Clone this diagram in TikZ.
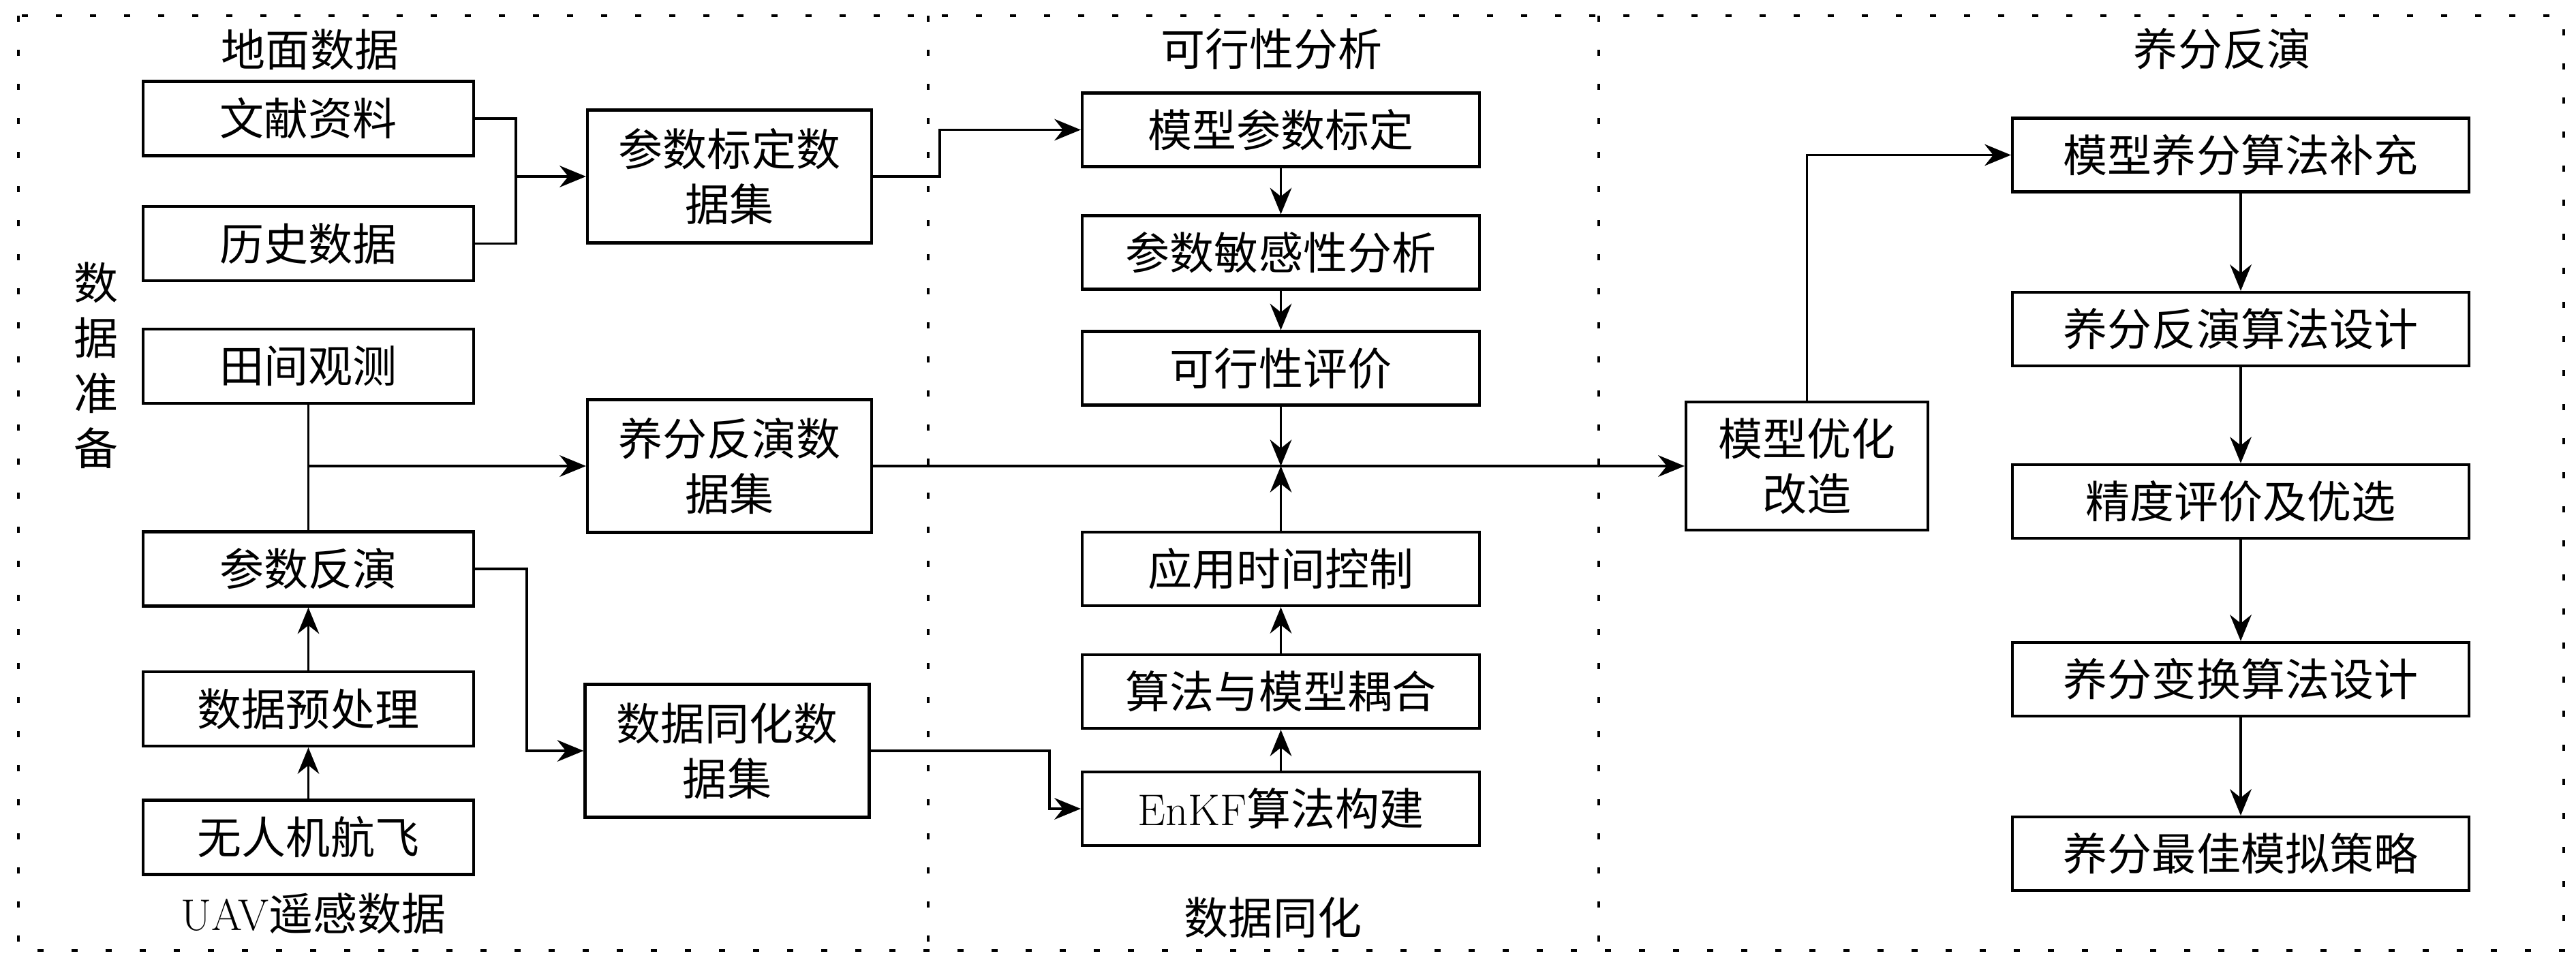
\documentclass[tikz,border=0pt]{standalone}
\usepackage{fontspec}
\usepackage{tikz}
\usetikzlibrary{arrows.meta}
\newfontfamily\cjk{Noto Sans CJK SC}

\begin{document}
\begin{tikzpicture}[x=1cm,y=-1cm,
	box/.style={shape=rectangle,draw=black,line width=1.2pt,inner sep=0pt,align=center,font=\cjk\fontsize{18.5}{23}\selectfont},
	lbox/.style={box,minimum width=4.85cm,minimum height=1.09cm},
	dbox/.style={box,minimum width=4.17cm,minimum height=1.95cm},
	mbox/.style={box,minimum width=5.83cm,minimum height=1.08cm},
	rbox/.style={box,minimum width=6.70cm,minimum height=1.08cm},
	lbl/.style={align=center,font=\cjk\fontsize{18.5}{23}\selectfont},
	frame/.style={line width=1.2pt,dash pattern=on 0.09cm off 0.41cm},
	link/.style={line width=1pt},
	>={Stealth[length=11pt,width=9pt]}]

	\useasboundingbox (0,0) rectangle (37.8,14.08);

	% dotted frame and columns
	\draw[frame] (0.27,0.23) rectangle (37.62,13.95);
	\draw[frame] (13.62,0.23) -- (13.62,13.95);
	\draw[frame] (23.46,0.23) -- (23.46,13.95);

	\node[lbl] (dmsj) at (4.55,0.73)  {地面数据};
	\node[lbl] (uav)  at (4.60,13.41) {{\rmfamily UAV}遥感数据};
	\node[lbl] (sjzb) at (1.41,5.36)  {数\\据\\准\\备};
	\node[lbl] (kxfx) at (18.66,0.72) {可行性分析};
	\node[lbl] (sjth) at (18.68,13.47) {数据同化};
	\node[lbl] (yffy) at (32.61,0.72) {养分反演};

	\node[lbox] (wx)   at (4.525,1.74)   {文献资料};
	\node[lbox] (ls)   at (4.525,3.575)  {历史数据};
	\node[lbox] (tj)   at (4.525,5.375)  {田间观测};
	\node[lbox] (csfy) at (4.525,8.35)   {参数反演};
	\node[lbox] (yucl) at (4.525,10.405) {数据预处理};
	\node[lbox] (wrj)  at (4.525,12.29)  {无人机航飞};

	\node[dbox] (bdsj) at (10.705,2.59) {参数标定数\\据集};
	\node[dbox] (fysj) at (10.705,6.84) {养分反演数\\据集};
	\node[dbox] (thsj) at (10.67,11.02) {数据同化数\\据集};

	\node[mbox] (mxbd) at (18.795,1.905)  {模型参数标定};
	\node[mbox] (mgx)  at (18.795,3.705)  {参数敏感性分析};
	\node[mbox] (kxpj) at (18.795,5.405)  {可行性评价};
	\node[mbox] (sjkz) at (18.795,8.35)   {应用时间控制};
	\node[mbox] (ouhe) at (18.795,10.15)  {算法与模型耦合};
	\node[mbox] (enkf) at (18.795,11.87)  {{\rmfamily EnKF}算法构建};

	\node[box,minimum width=3.55cm,minimum height=1.88cm] (yhgz) at (26.515,6.84) {模型优化\\改造};

	\node[rbox] (bc)   at (32.88,2.275) {模型养分算法补充};
	\node[rbox] (fysf) at (32.88,4.83)  {养分反演算法设计};
	\node[rbox] (jd)   at (32.88,7.36)  {精度评价及优选};
	\node[rbox] (bh)   at (32.88,9.97)  {养分变换算法设计};
	\node[rbox] (cl)   at (32.88,12.53) {养分最佳模拟策略};

	\coordinate (j1)  at (7.57,2.59);
	\coordinate (k1)  at (13.79,2.59);
	\coordinate (j2)  at (4.525,6.84);
	\coordinate (j3)  at (7.73,8.35);
	\coordinate (k2)  at (15.40,11.02);
	\coordinate (hub) at (18.795,6.84);

	\draw[link] (wx.east) -| (j1) |- (ls.east);
	\path[->, link] (j1) edge (bdsj.west);
	\draw[->, link] (bdsj.east) -- (k1) |- (mxbd.west);
	\draw[link] (tj.south) -- (csfy.north);
	\path[->, link] (j2) edge (fysj.west);
	\path[->, link] (wrj) edge (yucl);
	\path[->, link] (yucl) edge (csfy);
	\draw[->, link] (csfy.east) -- (j3) |- (thsj.west);
	\draw[->, link] (thsj.east) -- (k2) |- (enkf.west);

	\path[->, link] (mxbd) edge (mgx);
	\path[->, link] (mgx) edge (kxpj);
	\path[->, link] (kxpj) edge (hub);
	\path[->, link] (enkf) edge (ouhe);
	\path[->, link] (ouhe) edge (sjkz);
	\path[->, link] (sjkz) edge (hub);
	\path[->, link] (fysj.east) edge (yhgz.west);

	\draw[->, link] (yhgz.north) |- (bc.west);
	\path[->, link] (bc) edge (fysf);
	\path[->, link] (fysf) edge (jd);
	\path[->, link] (jd) edge (bh);
	\path[->, link] (bh) edge (cl);

\end{tikzpicture}
\end{document}
